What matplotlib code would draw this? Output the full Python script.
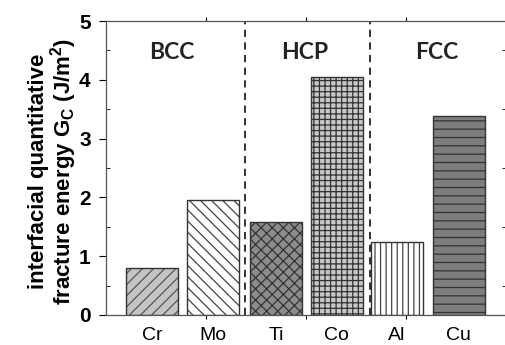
import matplotlib.pyplot as plt
from matplotlib.ticker import MultipleLocator

plt.rcParams['font.family'] = ['Liberation Sans', 'DejaVu Sans']
plt.rcParams['mathtext.fontset'] = 'custom'
plt.rcParams['mathtext.bf'] = 'Liberation Sans:bold'
plt.rcParams['mathtext.rm'] = 'Liberation Sans'
plt.rcParams['hatch.linewidth'] = 0.9

metals = ['Cr', 'Mo', 'Ti', 'Co', 'Al', 'Cu']
gc_values = [0.80, 1.95, 1.58, 4.04, 1.24, 3.38]
groups = ['BCC', 'HCP', 'FCC']

# bar look (fill, hatch, hatch colour)
faces = ['#c4c4c4', 'white', '#8c8c8c', '#c8c8c8', 'white', '#7e7e7e']
hatches = ['///', '\\\\\\', 'xxx', '+++', '|||', '--']
hatch_cols = ['#555555', '#444444', '#333333', '#333333', '#444444', '#333333']

xpos = [0.46, 1.07, 1.70, 2.31, 2.91, 3.53]
group_x = [0.66, 1.99, 3.31]
divs = [1.39, 2.64]

fig = plt.figure(figsize=(5.06, 3.45), dpi=100)
ax = fig.add_axes([0.2095, 0.087, 0.79, 0.852])

for i in range(len(metals)):
    # hatch drawn with its own colour, outline drawn on top
    ax.bar(xpos[i], gc_values[i], width=0.52, color=faces[i], hatch=hatches[i],
           edgecolor=hatch_cols[i], linewidth=0)
    ax.bar(xpos[i], gc_values[i], width=0.52, fill=False, edgecolor='#333333', linewidth=1.0)

for d in divs:
    ax.axvline(d, color='#222222', linestyle=(0, (4, 3)), linewidth=1.3)

for g, gx in zip(groups, group_x):
    ax.text(gx, 4.47, g, ha='center', va='center', fontsize=16.5, fontweight='bold',
            family=['Lato', 'DejaVu Sans'], color='#222222')

ax.set_xlim(0, 4)
ax.set_ylim(0, 5)
ax.set_xticks([1, 2, 3])
ax.set_xticklabels([])
ax.set_xticks(xpos, metals, minor=True)
ax.tick_params(axis='x', which='minor', length=0, labelsize=14, pad=9)
ax.tick_params(axis='x', which='major', length=3, direction='out', top=True)
ax.yaxis.set_major_locator(MultipleLocator(1))
ax.yaxis.set_minor_locator(MultipleLocator(0.5))
ax.tick_params(axis='y', which='major', direction='out', length=5, labelsize=15, pad=6, right=True)
ax.tick_params(axis='y', which='minor', direction='in', length=3, right=True)
for lab in ax.get_yticklabels():
    lab.set_fontweight('bold')

for s in ax.spines.values():
    s.set_color('#555555')
    s.set_linewidth(0.9)

ax.set_ylabel('interfacial quantitative\nfracture energy G$_\\mathbf{C}$ (J/m$^\\mathbf{2}$)',
              fontsize=16, fontweight='bold', linespacing=0.95)
ax.yaxis.set_label_coords(-0.068, 0.49)

fig.savefig('out.png', dpi=100)
